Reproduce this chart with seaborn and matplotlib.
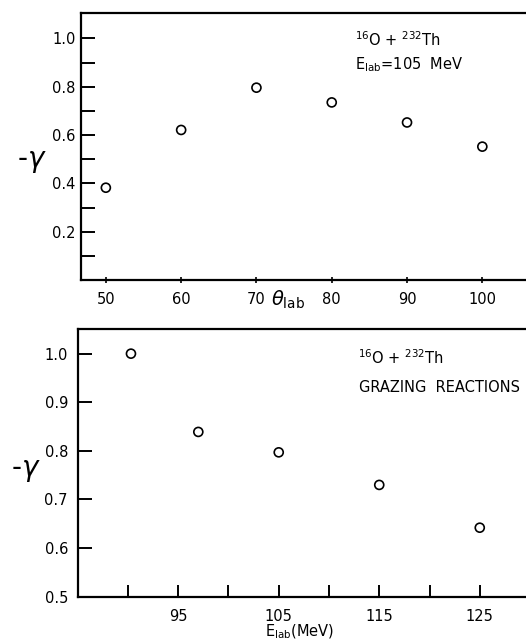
import numpy as np
import pandas as pd
import seaborn as sns
import matplotlib.pyplot as plt
from matplotlib.ticker import FixedLocator

# top panel: -gamma vs lab angle, E_lab = 105 MeV
theta_lab = [50, 60, 70, 80, 90, 100]
gamma_theta = [0.382, 0.621, 0.796, 0.735, 0.652, 0.552]

# bottom panel: -gamma vs lab energy, grazing reactions
e_lab = [90.3, 97.0, 105.0, 115.0, 125.0]
gamma_energy = [1.0, 0.839, 0.797, 0.730, 0.642]

top_xticks = [50, 60, 70, 80, 90, 100]
bot_xticks = [90, 95, 100, 105, 110, 115, 120, 125]
bot_xlabels = ["", "95", "", "105", "", "115", "", "125"]

sns.set_style("ticks")
plt.rcParams['font.family'] = ['DejaVu Sans']
plt.rcParams['mathtext.fontset'] = 'dejavusans'
for key in ("text.color", "axes.edgecolor", "axes.labelcolor",
            "xtick.color", "ytick.color"):
    plt.rcParams[key] = "black"

fig = plt.figure(figsize=(5.26, 6.44), dpi=100)
ax1 = fig.add_axes([0.154, 0.5652, 0.846, 0.4146])
ax2 = fig.add_axes([0.1477, 0.0734, 0.8523, 0.4152])

df1 = pd.DataFrame({"theta": theta_lab, "gamma": gamma_theta})
df2 = pd.DataFrame({"elab": e_lab, "gamma": gamma_energy})

sns.scatterplot(data=df1, x="theta", y="gamma", ax=ax1, s=42, marker="o",
                facecolor="none", edgecolor="black", linewidth=1.2)
sns.scatterplot(data=df2, x="elab", y="gamma", ax=ax2, s=42, marker="o",
                facecolor="none", edgecolor="black", linewidth=1.2)

for ax in (ax1, ax2):
    ax.spines["right"].set_visible(False)
    for s in ("left", "top", "bottom"):
        ax.spines[s].set_linewidth(1.6)
    ax.set_xlabel("")
    ax.set_ylabel("")

# top axes
ax1.set_xlim(46.7, 105.8)
ax1.set_ylim(0, 1.105)
ax1.xaxis.set_major_locator(FixedLocator(top_xticks))
ax1.set_yticks([0.2, 0.4, 0.6, 0.8, 1.0])
ax1.set_yticklabels(["0.2", "0.4", "0.6", "0.8", "1.0"])
ax1.yaxis.set_minor_locator(FixedLocator([0.1, 0.3, 0.5, 0.7, 0.9]))
ax1.tick_params(axis="y", which="both", direction="in", length=10, width=1.4,
                pad=4, labelsize=10.5)
ax1.tick_params(axis="x", direction="inout", length=5, width=1.2, pad=6,
                labelsize=10.5)
ax1.tick_params(top=False, right=False)
ax1.text(0.615, 0.875, r"$^{16}$O + $^{232}$Th", transform=ax1.transAxes,
         fontsize=10.5)
ax1.text(0.615, 0.79, r"E$_{\mathrm{lab}}$=105  MeV", transform=ax1.transAxes,
         fontsize=10.5)
fig.text(0.032, 0.75, r"-$\gamma$", fontsize=20, va="center", ha="left")
ax1.text(74.2, -0.035, r"$\theta_{\mathrm{lab}}$", fontsize=14, ha="center",
         va="top")

# bottom axes
ax2.set_xlim(85.0, 129.6)
ax2.set_ylim(0.5, 1.05)
ax2.xaxis.set_major_locator(FixedLocator(bot_xticks))
ax2.set_xticklabels(bot_xlabels)
ax2.set_yticks([0.5, 0.6, 0.7, 0.8, 0.9, 1.0])
ax2.set_yticklabels(["0.5", "0.6", "0.7", "0.8", "0.9", "1.0"])
ax2.tick_params(axis="y", direction="in", length=10, width=1.4, pad=7,
                labelsize=10.5)
ax2.tick_params(axis="x", direction="in", length=9, width=1.4, pad=9,
                labelsize=10.5)
ax2.tick_params(top=False, right=False)
ax2.text(0.625, 0.87, r"$^{16}$O + $^{232}$Th", transform=ax2.transAxes,
         fontsize=10.5)
ax2.text(0.627, 0.765, "GRAZING  REACTIONS", transform=ax2.transAxes,
         fontsize=10.5)
fig.text(0.02, 0.27, r"-$\gamma$", fontsize=20, va="center", ha="left")
fig.text(0.57, 0.004, r"E$_{\mathrm{lab}}$(MeV)", fontsize=10.5,
         ha="center", va="bottom")

fig.savefig("out.png", dpi=100)
